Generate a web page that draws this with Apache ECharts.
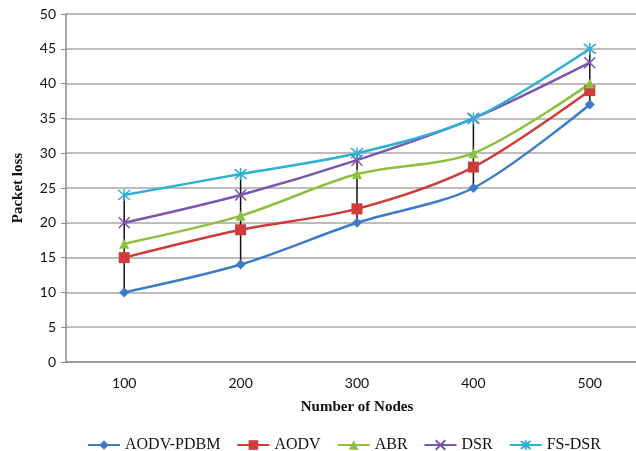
<!DOCTYPE html>
<html>
<head>
<meta charset="utf-8">
<script src="https://cdn.jsdelivr.net/npm/echarts@6/dist/echarts.min.js"></script>
<style>
  html, body { margin: 0; padding: 0; background: #fff; }
  #chart { width: 636px; height: 451px; }
</style>
</head>
<body>
<div id="chart"></div>
<script>
// data
const nodes = ['100', '200', '300', '400', '500']
const aodvPdbm = [10, 14, 20, 25, 37]
const aodv = [15, 19, 22, 28, 39]
const abr = [17, 21, 27, 30, 40]
const dsr = [20, 24, 29, 35, 43]
const fsDsr = [24, 27, 30, 35, 45]

const names = ['AODV-PDBM', 'AODV', 'ABR', 'DSR', 'FS-DSR']
const allSeries = [aodvPdbm, aodv, abr, dsr, fsDsr]
const colors = ['#3c7cc6', '#cf3b3b', '#8dc03f', '#7c56ac', '#2db0d6']

const xSym = 'path://M0,0L10,10M10,0L0,10'
const starSym = 'path://M0,0L10,10M10,0L0,10M5,-1L5,11'
const symbols = ['diamond', 'rect', 'triangle', xSym, starSym]
const symSizes = [10, 11, 10, 11, 12]

// high-low lines (Excel style)
const hiLo = nodes.map((n, i) => {
  const vals = allSeries.map(s => s[i])
  return [i, Math.min(...vals), Math.max(...vals)]
})

const chart = echarts.init(document.getElementById('chart'))

const lineSeries = allSeries.map((data, k) => {
  const isPath = symbols[k].startsWith('path')
  return {
    name: names[k],
    type: 'line',
    data: data,
    smooth: 0.3,
    z: 3,
    symbol: symbols[k],
    symbolSize: symSizes[k],
    showSymbol: true,
    lineStyle: { color: colors[k], width: 2.5 },
    itemStyle: isPath
      ? { color: 'none', borderColor: colors[k], borderWidth: 1.5 }
      : { color: colors[k], borderColor: colors[k], borderWidth: 0 }
  }
})

chart.setOption({
  animation: false,
  color: colors,
  grid: {
    left: 66,
    right: -12,
    top: 14,
    bottom: 89,
    outerBoundsMode: 'none'
  },
  xAxis: {
    type: 'category',
    data: nodes,
    name: 'Number of Nodes',
    nameLocation: 'middle',
    nameGap: 38,
    nameTextStyle: {
      fontFamily: 'Liberation Serif',
      fontWeight: 'bold',
      fontSize: 15,
      color: '#111'
    },
    axisLine: { lineStyle: { color: '#8c8c8c', width: 1.5 } },
    axisTick: { show: false },
    axisLabel: {
      fontFamily: 'Lato',
      fontSize: 14,
      color: '#111',
      margin: 14
    }
  },
  yAxis: {
    type: 'value',
    min: 0,
    max: 50,
    interval: 5,
    name: 'Packet loss',
    nameLocation: 'middle',
    nameGap: 40,
    nameRotate: 90,
    nameTextStyle: {
      fontFamily: 'Liberation Serif',
      fontWeight: 'bold',
      fontSize: 15,
      color: '#111'
    },
    axisLine: { show: true, lineStyle: { color: '#8c8c8c', width: 1.5 } },
    axisTick: { show: true, length: 5, lineStyle: { color: '#8c8c8c' } },
    splitLine: { lineStyle: { color: '#a6a6a6', width: 1.5 } },
    axisLabel: {
      fontFamily: 'Lato',
      fontSize: 14,
      color: '#111',
      margin: 10
    }
  },
  legend: {
    top: 432,
    left: 82,
    itemGap: 16,
    itemWidth: 32,
    itemHeight: 12,
    textStyle: {
      fontFamily: 'Liberation Serif',
      fontSize: 16,
      color: '#111'
    },
    data: names
  },
  series: [
    {
      type: 'custom',
      z: 2,
      silent: true,
      data: hiLo,
      renderItem(params, api) {
        const top = api.coord([api.value(0), api.value(2)])
        const bot = api.coord([api.value(0), api.value(1)])
        return {
          type: 'line',
          shape: { x1: top[0], y1: top[1], x2: bot[0], y2: bot[1] },
          style: { stroke: '#111', lineWidth: 1.5 }
        }
      }
    },
    ...lineSeries
  ]
})
</script>
</body>
</html>
